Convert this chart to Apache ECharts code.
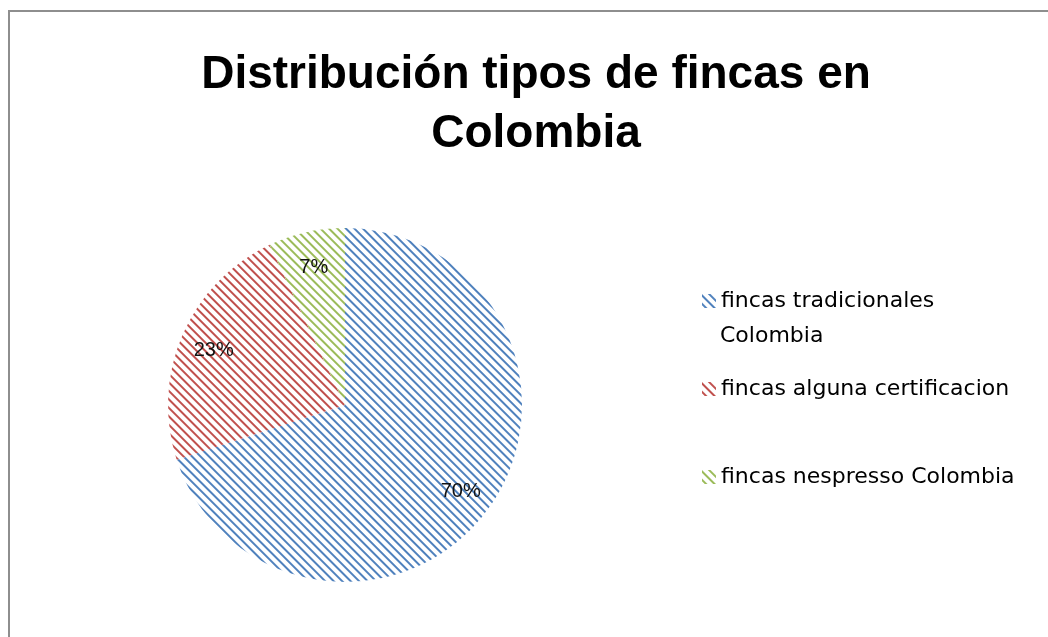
<!DOCTYPE html>
<html>
<head>
<meta charset="utf-8">
<script src="https://cdn.jsdelivr.net/npm/echarts@6/dist/echarts.min.js"></script>
<style>
  html, body { margin: 0; padding: 0; background: #fff; }
  #frame { position: absolute; left: 8px; top: 10px; width: 1040px; height: 627px;
           border-top: 2px solid #8e8e8e; border-left: 2px solid #8e8e8e; }
  #chart { position: absolute; left: 0; top: 0; width: 1048px; height: 637px; }
</style>
</head>
<body>
<div id="frame"></div>
<div id="chart"></div>
<script>
// datos
var categorias = ['fincas tradicionales Colombia', 'fincas alguna certificacion', 'fincas nespresso Colombia'];
var etiquetasLeyenda = ['fincas tradicionales', 'fincas alguna certificacion', 'fincas nespresso Colombia'];
var valores = [70, 23, 7];
var colores = ['#4F81BD', '#C0504D', '#9BBB59'];

var chart = echarts.init(document.getElementById('chart'));

function rayas(c) {
  return {
    color: c,
    symbol: 'rect',
    symbolSize: 1,
    dashArrayX: [1, 0],
    dashArrayY: [2, 4],
    rotation: Math.PI / 4
  };
}

var datos = [];
for (var i = 0; i < categorias.length; i++) {
  datos.push({
    name: categorias[i],
    value: valores[i],
    itemStyle: { color: '#fff', decal: rayas(colores[i]) }
  });
}

var legendText = { fontFamily: 'DejaVu Sans', fontSize: 22, color: '#000' };
var legendTops = [285, 373, 461];
var legends = [];
for (var j = 0; j < categorias.length; j++) {
  legends.push({
    orient: 'vertical',
    left: 697,
    top: legendTops[j],
    data: [categorias[j]],
    itemWidth: 14,
    itemHeight: 14,
    itemGap: 0,
    icon: 'rect',
    textStyle: legendText,
    selectedMode: false,
    formatter: (function (k) { return function () { return etiquetasLeyenda[k]; }; })(j)
  });
}

var option = {
  animation: false,
  title: {
    text: 'Distribución tipos de fincas en\nColombia',
    left: 531,
    textAlign: 'center',
    top: 41,
    textStyle: {
      fontFamily: 'Liberation Sans',
      fontWeight: 'bold',
      fontSize: 46,
      lineHeight: 59,
      color: '#000'
    }
  },
  legend: legends,
  graphic: [{
    type: 'text',
    left: 720,
    top: 325,
    style: { text: 'Colombia', font: '22px "DejaVu Sans"', fill: '#000' }
  }],
  series: [
    {
      type: 'pie',
      center: [345, 405],
      radius: [0, 177],
      startAngle: 90,
      clockwise: true,
      data: datos,
      label: { show: false },
      labelLine: { show: false },
      emphasis: { disabled: true }
    },
    {
      // capa invisible solo para situar las etiquetas
      type: 'pie',
      center: [345, 407],
      radius: [100, 180],
      startAngle: 90,
      clockwise: true,
      silent: true,
      data: valores.map(function (v, k) {
        return { name: categorias[k], value: v, itemStyle: { color: 'rgba(0,0,0,0)' } };
      }),
      label: {
        show: true,
        position: 'inside',
        formatter: '{c}%',
        fontFamily: 'Liberation Sans',
        fontSize: 20,
        color: '#111'
      },
      labelLine: { show: false },
      emphasis: { disabled: true }
    }
  ]
};
chart.setOption(option);
</script>
</body>
</html>
